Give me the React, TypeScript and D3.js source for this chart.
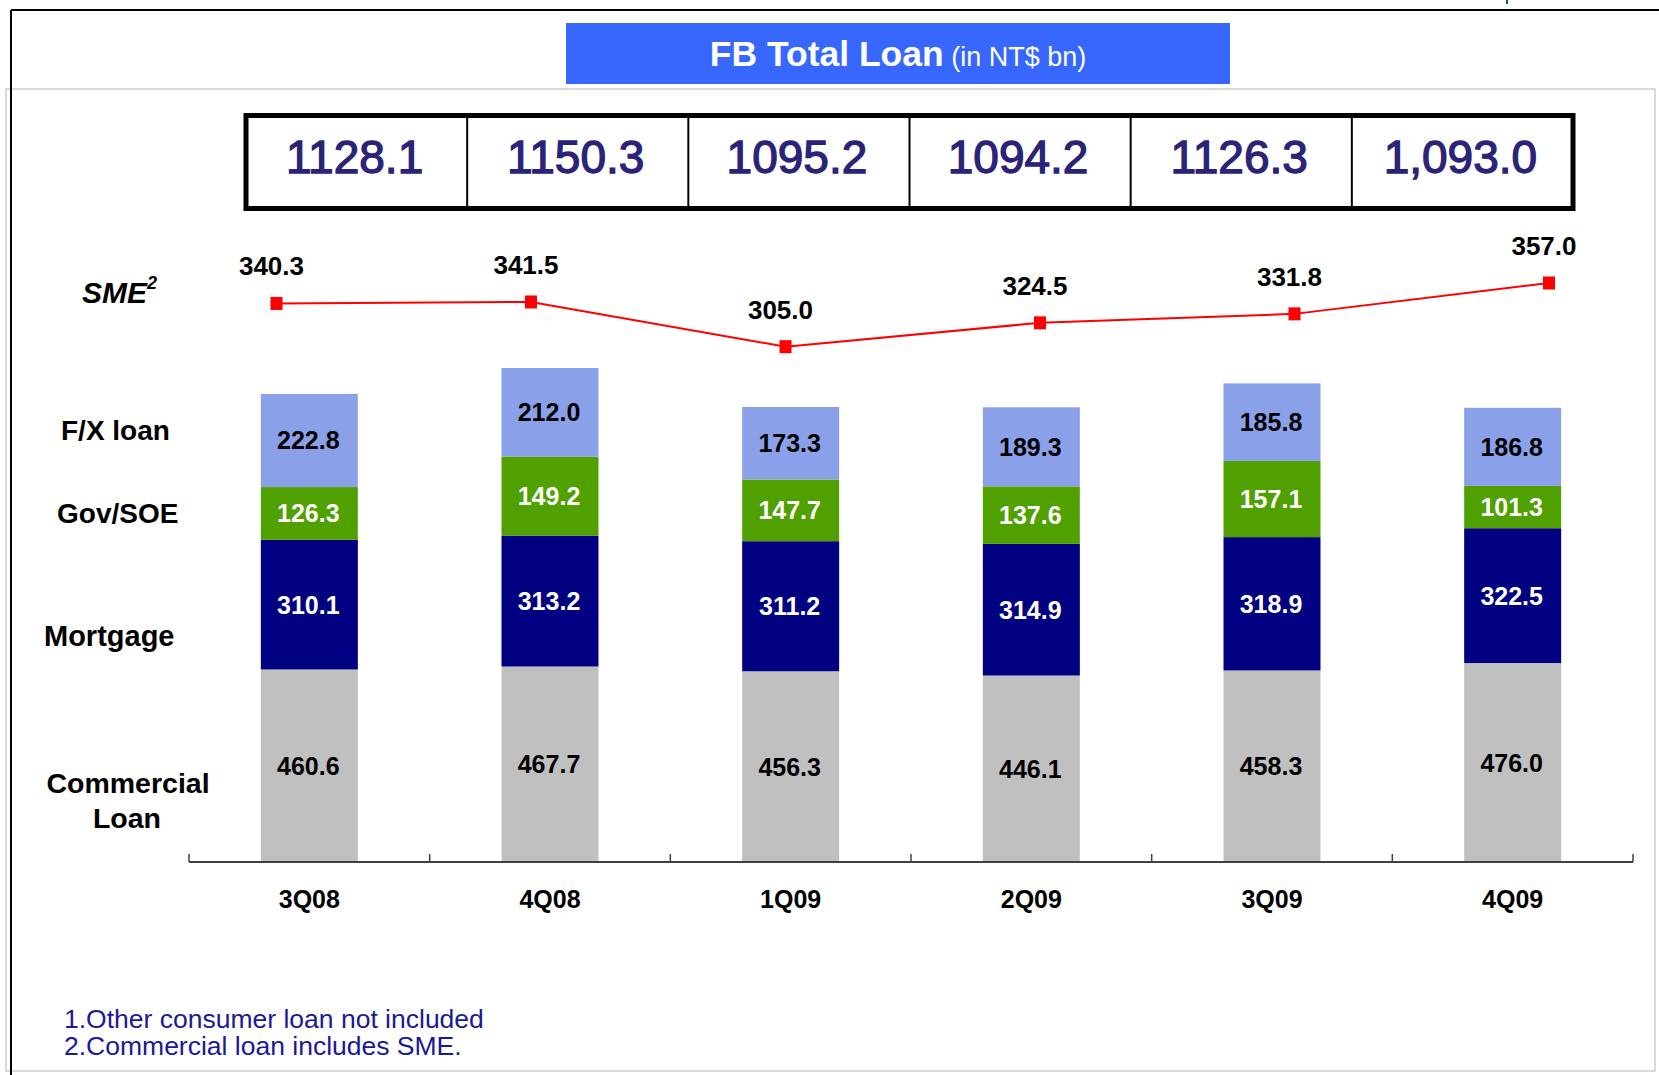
import React from "react";
import * as d3 from "d3";

// ---- data ----
const categories = ["3Q08", "4Q08", "1Q09", "2Q09", "3Q09", "4Q09"];
const totalLoanLabels = ["1128.1", "1150.3", "1095.2", "1094.2", "1126.3", "1,093.0"];
const smeValues = [340.3, 341.5, 305.0, 324.5, 331.8, 357.0];
const commercialLoan = [460.6, 467.7, 456.3, 446.1, 458.3, 476.0];
const mortgage = [310.1, 313.2, 311.2, 314.9, 318.9, 322.5];
const govSoe = [126.3, 149.2, 147.7, 137.6, 157.1, 101.3];
// bar heights as drawn in the source (4Q08 and 3Q09 segments are drawn taller than their labels)
const govSoeDrawn = [126.3, 189.0, 147.7, 137.6, 182.0, 101.3];
const fxLoan = [222.8, 212.0, 173.3, 189.3, 185.8, 186.8];

const seriesKeys = ["commercial", "mortgage", "gov", "fx"];
const seriesLabels: Record<string, number[]> = {
  commercial: commercialLoan,
  mortgage: mortgage,
  gov: govSoe,
  fx: fxLoan,
};
const seriesColors: Record<string, string> = {
  commercial: "#C0C0C0",
  mortgage: "#000080",
  gov: "#50A000",
  fx: "#8AA0E8",
};
const seriesTextColors: Record<string, string> = {
  commercial: "#000000",
  mortgage: "#FFFFFF",
  gov: "#FFFFFF",
  fx: "#000000",
};

const FONT = "'Liberation Sans', Arial, Helvetica, sans-serif";

export default function App() {
  const W = 1659;
  const H = 1075;

  const rows = categories.map((c, i) => ({
    cat: c,
    commercial: commercialLoan[i],
    mortgage: mortgage[i],
    gov: govSoeDrawn[i],
    fx: fxLoan[i],
  }));
  const stacked = d3.stack<any>().keys(seriesKeys)(rows);

  const axisY = 862;
  const x = d3
    .scaleBand<string>()
    .domain(categories)
    .range([189, 1633])
    .paddingInner(0.597)
    .paddingOuter(0.2985);
  const y = d3.scaleLinear().domain([0, 1200]).range([axisY, axisY - 1200 * 0.418]);

  const xLine = d3.scalePoint<string>().domain(categories).range([276.5, 1549]);
  const yLine = d3.scaleLinear().domain([305, 357]).range([346.7, 283]);
  const linePath = d3
    .line<number>()
    .x((_, i) => xLine(categories[i]) as number)
    .y((d) => yLine(d))(smeValues);

  const xTable = d3.scaleBand<string>().domain(categories).range([246, 1573]);

  const step = x.step();
  const tickXs = [0, 1, 2, 3, 4, 5, 6].map((k) => 189 + k * step);

  return (
    <svg
      width={W}
      height={H}
      style={{ position: "absolute", left: 0, top: 0, background: "#fff" }}
      fontFamily={FONT}
    >
      {/* frames */}
      <rect x={6} y={89} width={1649} height={982} fill="none" stroke="#DADADA" strokeWidth={2} />
      <line x1={11} y1={10} x2={W} y2={10} stroke="#000" strokeWidth={2} />
      <line x1={11} y1={10} x2={11} y2={H} stroke="#000" strokeWidth={2} />
      <rect x={1506} y={0} width={2} height={4} fill="#1E5E3C" />

      {/* title */}
      <rect x={566} y={23} width={664} height={61} fill="#3867FF" />
      <text x={898} y={66} textAnchor="middle" fill="#fff">
        <tspan fontSize={35.5} fontWeight="bold">FB Total Loan</tspan>
        <tspan fontSize={27}> (in NT$ bn)</tspan>
      </text>

      {/* totals table */}
      <rect x={246} y={115.5} width={1327} height={93} fill="#fff" stroke="#000" strokeWidth={5} />
      {categories.slice(1).map((c) => (
        <line
          key={"d" + c}
          x1={xTable(c) as number}
          x2={xTable(c) as number}
          y1={115.5}
          y2={208.5}
          stroke="#000"
          strokeWidth={2}
        />
      ))}
      {categories.map((c, i) => (
        <text
          key={"t" + c}
          x={(xTable(c) as number) + xTable.bandwidth() / 2 - 2}
          y={173}
          textAnchor="middle"
          fontSize={46}
          fill="#2A2378"
          stroke="#2A2378"
          strokeWidth={1.3}
        >
          {totalLoanLabels[i]}
        </text>
      ))}

      {/* left category labels */}
      <text x={82} y={302.7} fontSize={30} fontWeight="bold" fontStyle="italic">
        SME<tspan fontSize={18} dy={-14}>2</tspan>
      </text>
      <text x={61} y={440} fontSize={28} fontWeight="bold">F/X loan</text>
      <text x={57} y={523} fontSize={28} fontWeight="bold">Gov/SOE</text>
      <text x={44} y={646} fontSize={29} fontWeight="bold">Mortgage</text>
      <text x={128} y={793} fontSize={28.5} fontWeight="bold" textAnchor="middle">Commercial</text>
      <text x={127} y={828} fontSize={28.5} fontWeight="bold" textAnchor="middle">Loan</text>

      {/* stacked bars */}
      {stacked.map((layer) => (
        <g key={layer.key}>
          {layer.map((seg, i) => {
            const bx = x(categories[i]) as number;
            const y0 = y(seg[0]);
            const y1 = y(seg[1]);
            return (
              <g key={i}>
                <rect
                  x={bx}
                  y={y1}
                  width={x.bandwidth()}
                  height={y0 - y1}
                  fill={seriesColors[layer.key]}
                />
                <text
                  x={bx + x.bandwidth() / 2 - 1}
                  y={(y0 + y1) / 2}
                  dy="0.36em"
                  textAnchor="middle"
                  fontSize={25}
                  fontWeight="bold"
                  fill={seriesTextColors[layer.key]}
                >
                  {seriesLabels[layer.key][i].toFixed(1)}
                </text>
              </g>
            );
          })}
        </g>
      ))}

      {/* x axis */}
      <line x1={189} x2={1633} y1={axisY} y2={axisY} stroke="#404040" strokeWidth={2} />
      {tickXs.map((tx, k) => (
        <line key={"k" + k} x1={tx} x2={tx} y1={axisY} y2={axisY - 8} stroke="#404040" strokeWidth={1.5} />
      ))}
      {categories.map((c) => (
        <text
          key={"x" + c}
          x={(x(c) as number) + x.bandwidth() / 2}
          y={908}
          textAnchor="middle"
          fontSize={25}
          fontWeight="bold"
        >
          {c}
        </text>
      ))}

      {/* SME line */}
      <path d={linePath || ""} fill="none" stroke="#FF0000" strokeWidth={2} />
      {smeValues.map((v, i) => {
        const px = xLine(categories[i]) as number;
        const py = yLine(v);
        return (
          <g key={"m" + i}>
            <rect x={px - 6} y={py - 6.5} width={12} height={13} fill="#FF0000" />
            <text x={px - 5} y={py - 28} textAnchor="middle" fontSize={26} fontWeight="bold">
              {v.toFixed(1)}
            </text>
          </g>
        );
      })}

      {/* footnotes */}
      <text x={64} y={1028} fontSize={26.5} fill="#1A1A96">1.Other consumer loan not included</text>
      <text x={64} y={1055} fontSize={26.5} fill="#1A1A96">2.Commercial loan includes SME.</text>
    </svg>
  );
}
